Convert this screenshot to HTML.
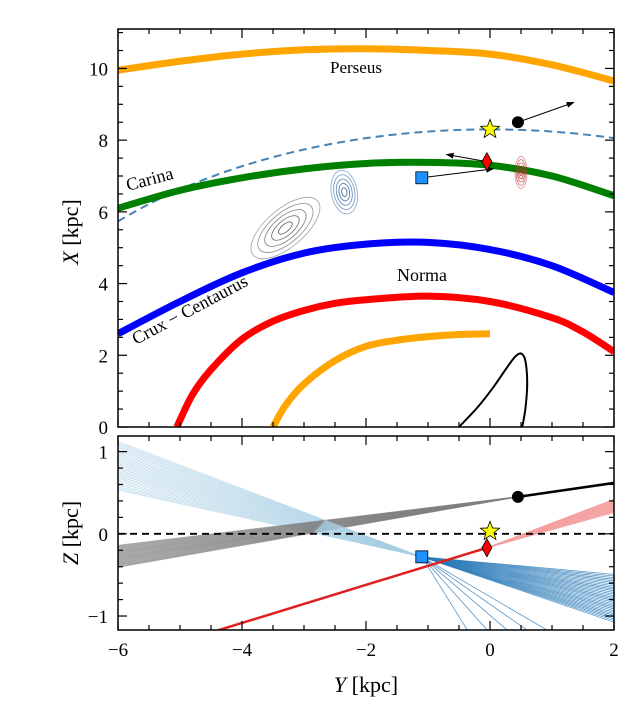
<!DOCTYPE html>
<html><head><meta charset="utf-8"><style>
body{margin:0;background:#fff;}
svg text{font-family:"Liberation Serif",serif;fill:#000;}
</style></head><body>
<svg id="c" width="639" height="711" viewBox="0 0 639 711" xmlns="http://www.w3.org/2000/svg"></svg>
<script>
// ---- data ----
const xRange=[-6,2];
const topRange=[0,11.1];
const botRange=[-1.17,1.19];
const xTicks=[-6,-4,-2,0,2];
const topTicks=[0,2,4,6,8,10];
const botTicks=[-1,0,1];
const perseusY=[-6,-5,-4,-3,-2,-1,0,1,2];
const perseusX=[9.95,10.2,10.4,10.52,10.55,10.5,10.4,10.1,9.65];
const carinaY=[-6,-5,-4,-3,-2,-1,0,1,2];
const carinaX=[6.1,6.6,6.95,7.2,7.35,7.38,7.3,7.0,6.45];
const cruxY=[-6,-5,-4,-3,-2,-1,0,1,2];
const cruxX=[2.6,3.5,4.3,4.85,5.1,5.15,4.95,4.5,3.75];
const normaY=[-5.05,-4.8,-4.5,-4,-3.5,-3,-2.5,-2,-1,0,1,1.5,2];
const normaX=[0,0.9,1.6,2.45,2.95,3.25,3.45,3.55,3.65,3.5,3.05,2.65,2.1];
const innerY=[-3.5,-3.3,-3,-2.5,-2,-1.5,-1,-0.5,0];
const innerX=[0,0.6,1.2,1.85,2.25,2.42,2.52,2.58,2.6];
const barY=[-0.5,-0.2,0.05,0.25,0.4,0.5,0.57,0.6,0.57,0.52];
const barX=[0,0.55,1.1,1.6,1.95,2.05,1.85,1.2,0.5,0];
const sunR=8.3;
const objY=[0.45,0,-0.05,-1.1];   // circle, star, diamond, square
const objX=[8.5,8.3,7.4,6.95];
const objZ=[0.45,0.03,-0.17,-0.28];
const grayEndZ=[-0.42,-0.15];
const lightBlueStartZ=[0.55,1.15];
const blueEndZ=[-1.1,-0.5];
const redEndY=-4.5, redEndZ=-1.2;
const pinkEndZ=[0.28,0.45];
const blackEndZ=0.63;

// ---- geometry ----
const L=118,R=614,T1=29,B1=427,T2=436,B2=630;
const sx=v=>L+(v-xRange[0])/(xRange[1]-xRange[0])*(R-L);
const sy1=v=>B1-(v-topRange[0])/(topRange[1]-topRange[0])*(B1-T1);
const sy2=v=>B2-(v-botRange[0])/(botRange[1]-botRange[0])*(B2-T2);
const svg=document.getElementById('c');
const NS='http://www.w3.org/2000/svg';
function el(tag,at,parent){const e=document.createElementNS(NS,tag);for(const k in at)e.setAttribute(k,at[k]);(parent||svg).appendChild(e);return e;}
const defs=el('defs',{});
let cp=el('clipPath',{id:'cp1'},defs);el('rect',{x:L,y:T1,width:R-L,height:B1-T1},cp);
cp=el('clipPath',{id:'cp2'},defs);el('rect',{x:L,y:T2,width:R-L,height:B2-T2},cp);
let mk=el('marker',{id:'ah',markerWidth:8,markerHeight:6,refX:7,refY:3,orient:'auto'},defs);el('path',{d:'M0,0 L8,3 L0,6 Z',fill:'#000'},mk);
const g1=el('g',{'clip-path':'url(#cp1)'});

const g2=el('g',{'clip-path':'url(#cp2)'});


function smooth(pts){let d='M'+pts[0][0]+','+pts[0][1];
for(let i=0;i<pts.length-1;i++){const p0=pts[i-1]||pts[i],p1=pts[i],p2=pts[i+1],p3=pts[i+2]||p2;
d+=` C${p1[0]+(p2[0]-p0[0])/6},${p1[1]+(p2[1]-p0[1])/6} ${p2[0]-(p3[0]-p1[0])/6},${p2[1]-(p3[1]-p1[1])/6} ${p2[0]},${p2[1]}`;}return d;}
function poly(ys,xs,st,w,name,dash){const p=el('path',{d:smooth(ys.map((y,i)=>[sx(y),sy1(xs[i])])),fill:'none',stroke:st,'stroke-width':w,'stroke-linejoin':'round'},g1);if(dash)p.setAttribute('stroke-dasharray',dash);

return p;}
poly(perseusY,perseusX,'#ffa500',7,'perseus-arm');
const sc=[];const scx=[];for(let y=-6;y<=2.01;y+=0.25){sc.push(y);scx.push(Math.sqrt(sunR*sunR-y*y));}
poly(sc,scx,'#4682b4',2,'solar-circle','8,5');
poly(carinaY,carinaX,'#008000',7,'carina-arm');
poly(cruxY,cruxX,'#0000ff',7,'crux-centaurus-arm');
poly(normaY,normaX,'#ff0000',7,'norma-arm');
poly(innerY,innerX,'#ffa500',7,'inner-arm');
poly(barY,barX,'#000',2,'bar-ellipse');
function contours(cy,cxv,rx,ry,rot,col,n,name){const g=el('g',{},g1);
for(let i=0;i<n;i++){const f=1-i/n;el('ellipse',{cx:sx(cy),cy:sy1(cxv),rx:rx*f,ry:ry*f,transform:`rotate(${rot} ${sx(cy)} ${sy1(cxv)})`,fill:'none',stroke:col,'stroke-width':0.9,opacity:0.5+0.5*(1-f)},g);}}
contours(-3.3,5.55,42,19,-40,'#555',5,'gray-contours');
contours(-2.35,6.55,13,22,-10,'#2a5fa0',5,'blue-contours');
contours(0.5,7.1,6,16,0,'#c03030',5,'red-contours');
let a=el('line',{x1:sx(objY[0]),y1:sy1(objX[0]),x2:sx(1.35),y2:sy1(9.05),stroke:'#000','stroke-width':1,'marker-end':'url(#ah)'},g1);

a=el('line',{x1:sx(objY[2]),y1:sy1(objX[2]),x2:sx(-0.7),y2:sy1(7.6),stroke:'#000','stroke-width':1,'marker-end':'url(#ah)'},g1);

a=el('line',{x1:sx(objY[3]),y1:sy1(objX[3]),x2:sx(0.05),y2:sy1(7.2),stroke:'#000','stroke-width':1,'marker-end':'url(#ah)'},g1);


function ln(g,y1,z1,y2,z2,col,w,op,name){const l=el('line',{x1:sx(y1),y1:sy2(z1),x2:sx(y2),y2:sy2(z2),stroke:col,'stroke-width':w,opacity:op},g);

}
const N=30;
for(let i=0;i<N;i++){const t=i/(N-1);
ln(g2,objY[0],objZ[0],-6.1,grayEndZ[0]+t*(grayEndZ[1]-grayEndZ[0]),'#808080',1,0.6,'gray-orbit-line');
ln(g2,-6.1,lightBlueStartZ[0]+t*(lightBlueStartZ[1]-lightBlueStartZ[0]),objY[3],objZ[3],'#a6cee3',0.8,0.7,'lightblue-orbit-line');
ln(g2,objY[3],objZ[3],2.1,blueEndZ[0]+t*(blueEndZ[1]-blueEndZ[0]),'#2b7bb9',0.8,0.8,'blue-orbit-line');
ln(g2,objY[2],objZ[2],2.1,pinkEndZ[0]+t*(pinkEndZ[1]-pinkEndZ[0]),'#f4a0a0',1,0.7,'pink-orbit-line');
}
for(let i=0;i<5;i++)ln(g2,objY[3],objZ[3],-0.3+i*0.35,-1.25,'#2b7bb9',0.8,0.8,'steep-blue-orbit-line');
ln(g2,objY[2],objZ[2],redEndY,redEndZ,'#e02020',2.5,1,'red-orbit-line');
ln(g2,objY[0],objZ[0],2.1,blackEndZ,'#000',2.5,1,'black-orbit-line');
let zl=el('line',{x1:L,y1:sy2(0),x2:R,y2:sy2(0),stroke:'#000','stroke-width':1.8,'stroke-dasharray':'7,5'});


function star(cx,cy,r){let p='';for(let i=0;i<10;i++){const rr=i%2?r*0.42:r;const an=-Math.PI/2+i*Math.PI/5;p+=(cx+rr*Math.cos(an))+','+(cy+rr*Math.sin(an))+' ';}return p;}
function markers(g,sy,vals,pre){
let m=el('circle',{cx:sx(objY[0]),cy:sy(vals[0]),r:6,fill:'#000'},g);
m=el('polygon',{points:star(sx(objY[1]),sy(vals[1]),10),fill:'#ffff00',stroke:'#000','stroke-width':0.8},g);
const dx=sx(objY[2]),dy=sy(vals[2]);
m=el('polygon',{points:`${dx},${dy-9} ${dx+5},${dy} ${dx},${dy+9} ${dx-5},${dy}`,fill:'#ff0000',stroke:'#000','stroke-width':0.8},g);
m=el('rect',{x:sx(objY[3])-6,y:sy(vals[3])-6,width:12,height:12,fill:'#1e90ff',stroke:'#000','stroke-width':0.8},g);}
markers(svg,sy1,objX,'top');markers(svg,sy2,objZ,'bottom');

function frame(T,B,sy,rng,ticks,minorStep,name){
const f=el('rect',{x:L,y:T,width:R-L,height:B-T,fill:'none',stroke:'#000','stroke-width':1.5});
for(let v=xRange[0];v<=xRange[1]+1e-6;v+=0.5){const maj=Math.abs(v-Math.round(v))<1e-6&&Math.round(v)%2===0;const len=maj?9:5;const x=sx(v);
el('line',{x1:x,y1:B,x2:x,y2:B-len,stroke:'#000','stroke-width':1.2});el('line',{x1:x,y1:T,x2:x,y2:T+len,stroke:'#000','stroke-width':1.2});}
const start=Math.ceil(rng[0]/minorStep)*minorStep;
for(let v=start;v<=rng[1]+1e-6;v+=minorStep){const maj=ticks.some(t=>Math.abs(t-v)<1e-6);const len=maj?9:5;const y=sy(v);
el('line',{x1:L,y1:y,x2:L+len,y2:y,stroke:'#000','stroke-width':1.2});el('line',{x1:R,y1:y,x2:R-len,y2:y,stroke:'#000','stroke-width':1.2});}
ticks.forEach(t=>{const tx=el('text',{x:L-10,y:sy(t)+7,'text-anchor':'end','font-size':19});tx.textContent=t<0?'\u2212'+(-t):t;

});}
frame(T1,B1,sy1,topRange,topTicks,0.5,'top-panel-frame');
frame(T2,B2,sy2,botRange,botTicks,0.2,'bottom-panel-frame');
xTicks.forEach(t=>{const tx=el('text',{x:sx(t),y:B2+26,'text-anchor':'middle','font-size':19});tx.textContent=t<0?'\u2212'+(-t):t;

});

function txt(s,x,y,size,name,extra){const t=el('text',Object.assign({x:x,y:y,'font-size':size},extra||{}));t.innerHTML=s;

return t;}
txt('Perseus',330,73,17,'perseus-label');
txt('Carina',128,191,18,'carina-label',{transform:'rotate(-15 128 191)'});
txt('Crux \u2212 Centaurus',136,345,18,'crux-centaurus-label',{transform:'rotate(-28 136 345)'});
txt('Norma',397,281,18,'norma-label');
txt('<tspan font-style="italic">X</tspan> [kpc]',78,232,22,'top-y-axis-title',{transform:'rotate(-90 78 232)','text-anchor':'middle'});
txt('<tspan font-style="italic">Z</tspan> [kpc]',78,533,22,'bottom-y-axis-title',{transform:'rotate(-90 78 533)','text-anchor':'middle'});
txt('<tspan font-style="italic">Y</tspan> [kpc]',366,692,22,'x-axis-title',{'text-anchor':'middle'});
</script>
</body></html>
